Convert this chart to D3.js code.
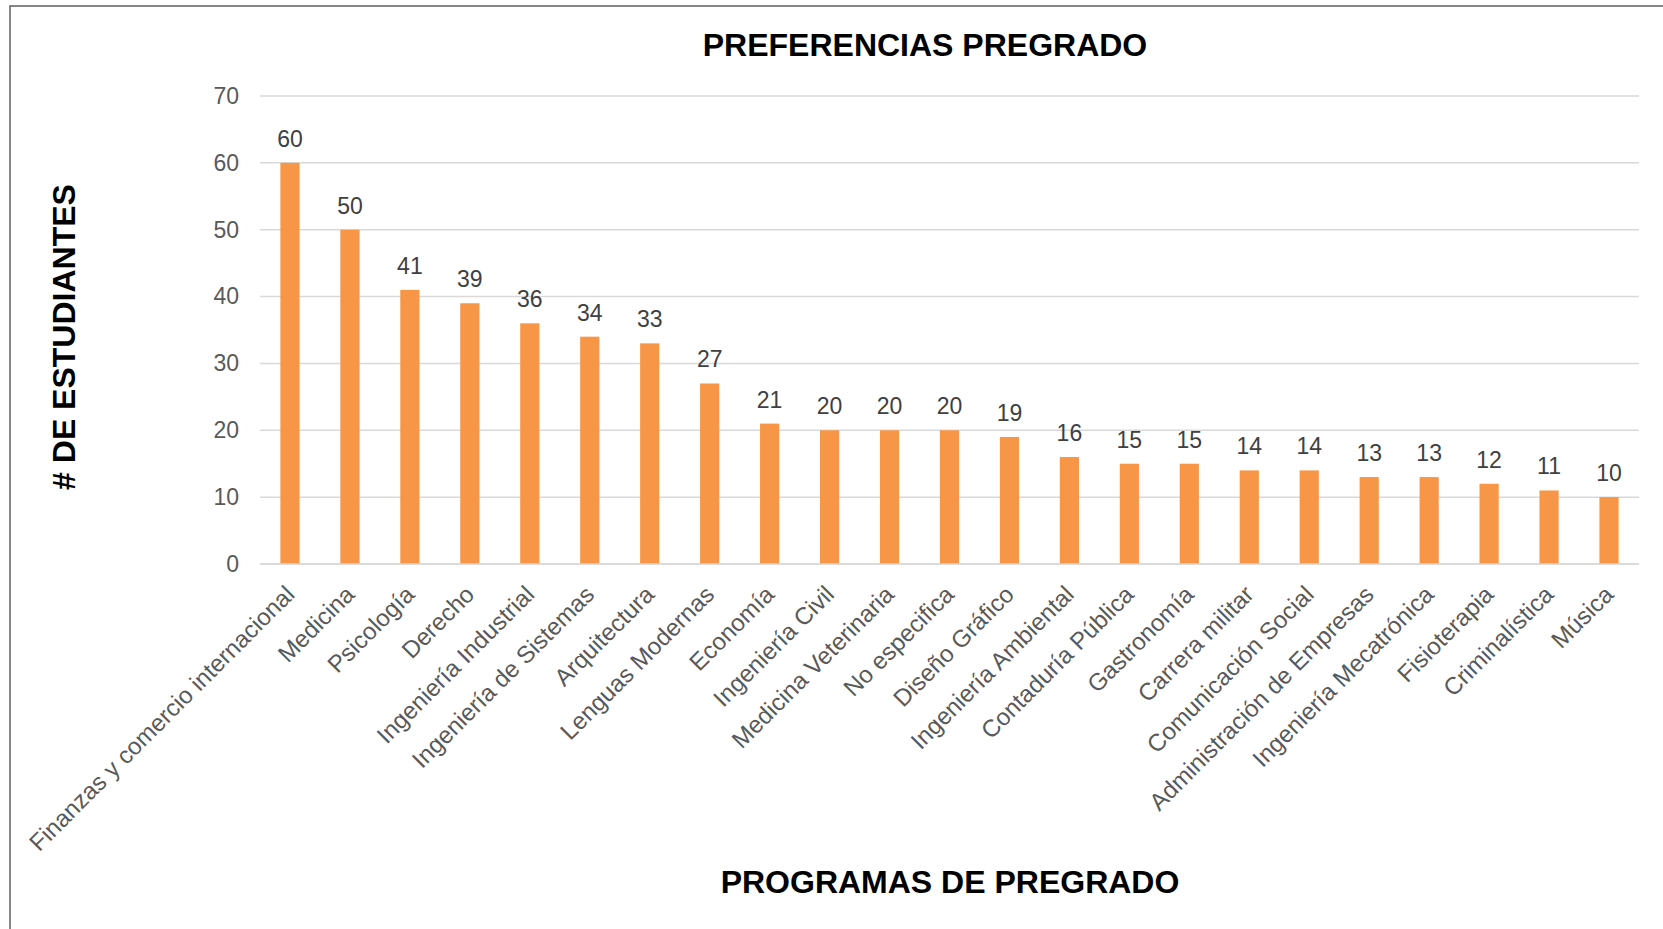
<html>
<head>
<meta charset="utf-8">
<script src="https://cdnjs.cloudflare.com/ajax/libs/d3/7.8.5/d3.min.js"></script>
<style>
  body { margin: 0; background: #fff; }
  text { font-family: "Liberation Sans", Arial, sans-serif; }
</style>
</head>
<body>
<div id="chartContainer"></div>
<script>
// data
var programas = ["Finanzas y comercio internacional", "Medicina", "Psicología", "Derecho",
  "Ingeniería Industrial", "Ingeniería de Sistemas", "Arquitectura", "Lenguas Modernas",
  "Economía", "Ingeniería Civil", "Medicina Veterinaria", "No especifica", "Diseño Gráfico",
  "Ingeniería Ambiental", "Contaduría Pública", "Gastronomía", "Carrera militar",
  "Comunicación Social", "Administración de Empresas", "Ingeniería Mecatrónica",
  "Fisioterapia", "Criminalística", "Música"];
var estudiantes = [60, 50, 41, 39, 36, 34, 33, 27, 21, 20, 20, 20, 19, 16, 15, 15, 14, 14, 13, 13, 12, 11, 10];
var yTicks = [0, 10, 20, 30, 40, 50, 60, 70];

var width = 1663, height = 929;

var svg = d3.select("#chartContainer").append("svg")
  .attr("width", width)
  .attr("height", height);

// outer frame (only left and top edges are visible)
svg.append("rect")
  .attr("x", 10).attr("y", 6)
  .attr("width", width + 20).attr("height", height + 20)
  .style("fill", "none")
  .style("stroke", "#5f5f5f")
  .style("stroke-width", 1.5);

// scales
var x = d3.scaleBand()
  .domain(programas)
  .range([260, 1639])
  .paddingInner(0.68)
  .paddingOuter(0.34);

var y = d3.scaleLinear()
  .domain([0, 70])
  .range([564, 96]);

// gridlines
svg.append("g").selectAll("line")
  .data(yTicks)
  .enter()
  .append("line")
    .attr("x1", 260).attr("x2", 1639)
    .attr("y1", function (d) { return y(d); })
    .attr("y2", function (d) { return y(d); })
    .style("stroke", "#d9d9d9")
    .style("stroke-width", 1.5);

// y axis labels
var yAxis = d3.axisLeft(y).tickValues(yTicks).tickSize(0).tickPadding(0);
var gy = svg.append("g")
  .attr("transform", "translate(239,0)")
  .call(yAxis);
gy.select(".domain").remove();
gy.selectAll("text")
  .style("font-family", "'Liberation Sans', Arial, sans-serif")
  .style("font-size", "23px")
  .style("fill", "#595959");

// bars
svg.append("g").selectAll("rect")
  .data(estudiantes)
  .enter()
  .append("rect")
    .attr("x", function (d, i) { return x(programas[i]); })
    .attr("y", function (d) { return y(d); })
    .attr("width", x.bandwidth())
    .attr("height", function (d) { return y(0) - y(d); })
    .style("fill", "#f79646");

// value labels
svg.append("g").selectAll("text")
  .data(estudiantes)
  .enter()
  .append("text")
    .attr("x", function (d, i) { return x(programas[i]) + x.bandwidth() / 2; })
    .attr("y", function (d) { return y(d) - 16; })
    .attr("text-anchor", "middle")
    .style("font-size", "23px")
    .style("fill", "#404040")
    .text(function (d) { return d; });

// category labels, rotated 45 degrees
var xAxis = d3.axisBottom(x).tickSize(0).tickPadding(0);
var gx = svg.append("g")
  .attr("transform", "translate(0," + y(0) + ")")
  .call(xAxis);
gx.select(".domain").remove();
gx.selectAll("text")
  .attr("x", 0).attr("y", 0).attr("dy", "0.35em")
  .attr("text-anchor", "end")
  .attr("transform", "translate(0,26) rotate(-45)")
  .style("font-family", "'Liberation Sans', Arial, sans-serif")
  .style("font-size", "24px")
  .style("fill", "#595959");

// baseline
svg.append("line")
  .attr("x1", 260).attr("x2", 1639)
  .attr("y1", y(0)).attr("y2", y(0))
  .style("stroke", "#d9d9d9")
  .style("stroke-width", 1.5);

// titles
svg.append("text")
  .attr("x", 925).attr("y", 56)
  .attr("text-anchor", "middle")
  .style("font-size", "32px")
  .style("font-weight", "bold")
  .style("fill", "#000")
  .text("PREFERENCIAS PREGRADO");

svg.append("text")
  .attr("x", 950).attr("y", 893)
  .attr("text-anchor", "middle")
  .style("font-size", "32px")
  .style("font-weight", "bold")
  .style("fill", "#000")
  .text("PROGRAMAS DE PREGRADO");

svg.append("text")
  .attr("transform", "translate(75,337) rotate(-90)")
  .attr("text-anchor", "middle")
  .style("font-size", "32px")
  .style("font-weight", "bold")
  .style("fill", "#000")
  .text("# DE ESTUDIANTES");
</script>
</body>
</html>
